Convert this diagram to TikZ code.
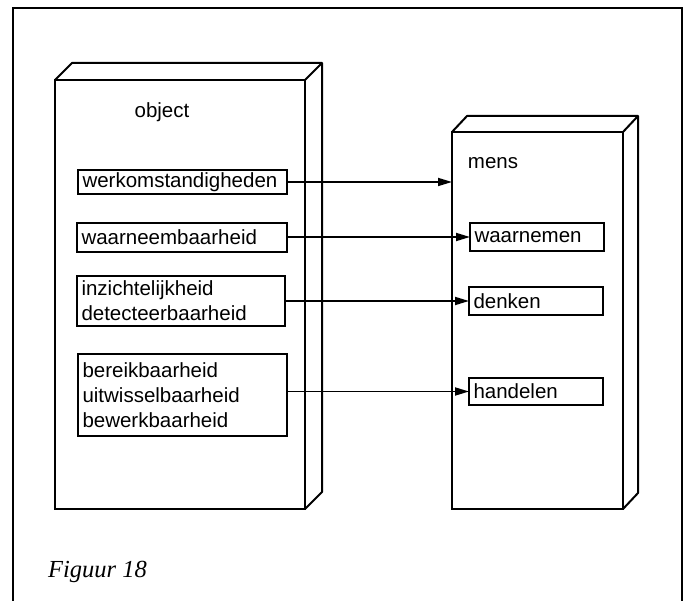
\documentclass[tikz,border=0pt]{standalone}
\usepackage{fontspec}
\setmainfont{Liberation Serif}
\setsansfont{Liberation Sans}
\usetikzlibrary{arrows.meta}

\tikzset{
  solid box/.style={draw, line width=2pt, inner sep=0pt, outer sep=0pt, anchor=north west},
  item/.style={draw, line width=1.5pt, anchor=north west, align=left, inner xsep=4.5pt,
    inner ysep=0pt, outer sep=0pt, font=\sffamily\fontsize{20.5}{25}\selectfont},
  title/.style={font=\sffamily\fontsize{20.5}{25}\selectfont, inner sep=0pt},
  link/.style={line width=1.7pt, -{Triangle[length=14pt,width=8pt]}}
}

\begin{document}
\begin{tikzpicture}[x=1pt,y=1pt]
  \useasboundingbox (0,0) rectangle (690,-601);
  % frame, open at the bottom
  \draw [line width=2.2pt] (13,-601) -- (13,-8) -- (682,-8) -- (682,-601);

  % object block
  \node [solid box, minimum width=250, minimum height=429] (object) at (55,-80) {};
  \draw [line width=2pt, line join=round] (object.north west) -- ++(17,17) -- ++(250,0)
        -- ++(0,-429) -- ++(-17,-17);
  \draw [line width=2pt] (object.north east) -- ++(17,17);
  \node [title] (objtitle) at (162,-112) {object};

  % mens block
  \node [solid box, minimum width=171, minimum height=377] (mens) at (452,-132) {};
  \draw [line width=2pt, line join=round] (mens.north west) -- ++(15,16) -- ++(171,0)
        -- ++(0,-377) -- ++(-15,-16);
  \draw [line width=2pt] (mens.north east) -- ++(15,16);
  \node [title] (menstitle) at (493,-163) {mens};

  % properties of the object
  \node [item, text width=200, minimum height=24] (werk) at (78,-170) {werkomstandigheden};
  \node [item, text width=201, minimum height=29] (waarneem) at (77,-223) {waarneembaarheid};
  \node [item, text width=199, minimum height=50] (inzicht) at (77,-276)
        {inzichtelijkheid\\detecteerbaarheid};
  \node [item, text width=200, minimum height=82] (bereik) at (78,-354)
        {bereikbaarheid\\uitwisselbaarheid\\bewerkbaarheid};

  % human activities
  \node [item, text width=125, minimum height=28] (waarnemen) at (470,-223) {waarnemen};
  \node [item, text width=125, minimum height=28] (denken) at (469,-287) {denken};
  \node [item, text width=125, minimum height=27] (handelen) at (469,-378) {handelen};

  \draw [link] (werk.east) -- (werk.east -| mens.west);
  \draw [link] (waarneem.east |- waarnemen.west) -- (waarnemen.west);
  \draw [link] (inzicht.east |- denken.west) -- (denken.west);
  \draw [link] (bereik.east |- handelen.west) -- (handelen.west);

  \node [anchor=base west, inner sep=0pt, font=\itshape\fontsize{24.5}{29}\selectfont]
        (caption) at (48,-577) {Figuur 18};
\end{tikzpicture}
\end{document}
